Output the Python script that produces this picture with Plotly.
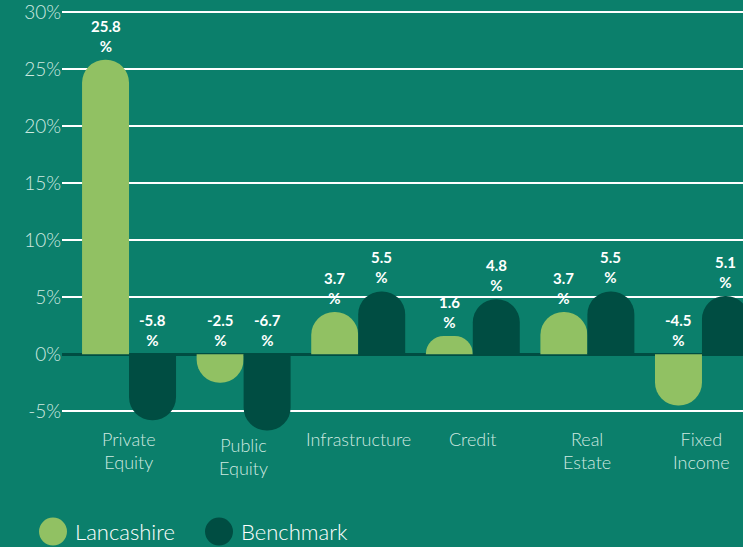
import plotly.graph_objects as go

categories = ["Private Equity", "Public Equity", "Infrastructure", "Credit", "Real Estate", "Fixed Income"]
category_labels = ["Private<br>Equity", "Public<br>Equity", "Infrastructure", "Credit", "Real<br>Estate", "Fixed<br>Income"]
lancashire = [25.8, -2.5, 3.7, 1.6, 3.7, -4.5]
benchmark = [-5.8, -6.7, 5.5, 4.8, 5.5, 5.1]
y_ticks = [-5, 0, 5, 10, 15, 20, 25, 30]

BG = "#0b7f6b"
LIGHT = "#91c163"
DARK = "#004d42"
TICK = "#cfe9e0"
FONT = "Lato"
BARGAP = 0.18

fig = go.Figure()
fig.add_trace(go.Bar(x=categories, y=lancashire, name="Lancashire",
                     marker=dict(color=LIGHT, cornerradius="50%", line=dict(width=0)),
                     showlegend=False))
fig.add_trace(go.Bar(x=categories, y=benchmark, name="Benchmark",
                     marker=dict(color=DARK, cornerradius="50%", line=dict(width=0)),
                     showlegend=False))

# value labels above each bar (negatives sit just above zero)
off = (1 - BARGAP) / 4
annotations = []
for series, shift in ((lancashire, -off), (benchmark, off)):
    for i, v in enumerate(series):
        annotations.append(dict(
            x=i + shift, y=max(v, 0), xref="x", yref="y",
            text=f"{v}<br>%", showarrow=False, yanchor="bottom", yshift=3,
            font=dict(family=FONT, size=15, color="white", weight="bold")))

# category labels under the plot
label_shift = [8, 2, 8, 8, 8, 8]
for i, lab in enumerate(category_labels):
    annotations.append(dict(
        x=i, y=0, xref="x", yref="paper", text=lab, showarrow=False,
        yanchor="top", yshift=label_shift[i],
        font=dict(family=FONT, size=18, color=TICK, weight=300)))

# legend drawn as big dots + text
legend_y = -0.2275
legend_items = [("Lancashire", LIGHT, 53), ("Benchmark", DARK, 219)]
shapes = []
for name, col, px in legend_items:
    xp = (px - 62) / (743 - 62)
    shapes.append(dict(type="circle", xref="paper", yref="paper",
                       xsizemode="pixel", ysizemode="pixel",
                       xanchor=xp, yanchor=legend_y,
                       x0=-14, x1=14, y0=-14, y1=14,
                       fillcolor=col, line=dict(width=0)))
    annotations.append(dict(x=xp, y=legend_y, xref="paper", yref="paper",
                            text=name, showarrow=False, xanchor="left", yanchor="middle",
                            xshift=20, font=dict(family=FONT, size=22, color="white", weight=300)))

fig.update_layout(
    width=743, height=547,
    margin=dict(l=62, r=0, t=3, b=113),
    paper_bgcolor=BG, plot_bgcolor=BG,
    barmode="group", bargap=BARGAP, bargroupgap=0,
    annotations=annotations, shapes=shapes,
    xaxis=dict(range=[-0.585, 5.358], showticklabels=False, showgrid=False,
               zeroline=False, showline=False, fixedrange=True),
    yaxis=dict(range=[-7, 30.6], tickvals=y_ticks,
               ticktext=[f"{t}%" for t in y_ticks],
               tickfont=dict(family=FONT, size=19, color=TICK, weight=300),
               ticklabeloverflow="allow",
               showgrid=True, gridcolor="white", gridwidth=2,
               zeroline=True, zerolinecolor=DARK, zerolinewidth=3,
               showline=False, ticks="", ticklabelstandoff=0),
)

fig.write_html("out.html", config={"displayModeBar": False},
               post_script="document.body.style.margin='0';document.body.style.overflow='hidden';")
